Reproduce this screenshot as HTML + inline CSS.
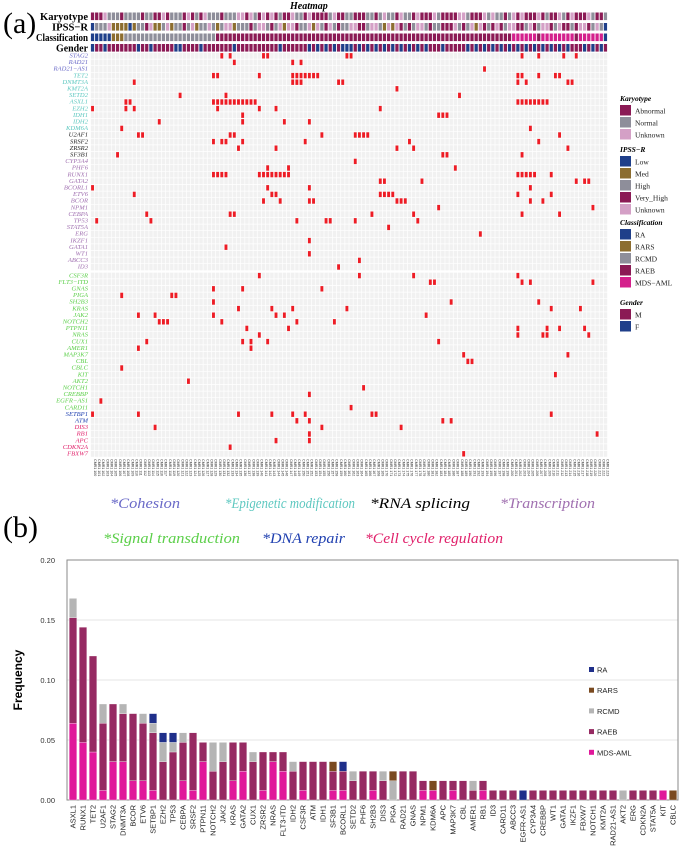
<!DOCTYPE html>
<html><head><meta charset="utf-8"><style>
html,body{margin:0;padding:0;background:#fff;width:680px;height:847px;overflow:hidden}
svg{display:block}
.serif{font-family:"Liberation Serif",serif}
.sans{font-family:"Liberation Sans",sans-serif}
</style></head><body>
<svg id="fig" width="680" height="847" viewBox="0 0 680 847" xmlns="http://www.w3.org/2000/svg">
<text x="3" y="33" class="serif" font-size="30">(a)</text>
<text x="3" y="537" class="serif" font-size="30">(b)</text>
<text x="290" y="9" class="serif" font-size="10" font-weight="bold" font-style="italic">Heatmap</text>
<g id="annot"></g>
<g id="heat"></g>
<g id="hlegend"></g>
<g class="serif" font-style="italic" font-size="15">
<text x="110" y="508" fill="#6a6ac8" textLength="70" lengthAdjust="spacingAndGlyphs">*Cohesion</text>
<text x="225" y="508" fill="#5ec8c0" textLength="130" lengthAdjust="spacingAndGlyphs">*Epigenetic modification</text>
<text x="370" y="508" fill="#000" textLength="100" lengthAdjust="spacingAndGlyphs">*RNA splicing</text>
<text x="500" y="508" fill="#a070b0" textLength="95" lengthAdjust="spacingAndGlyphs">*Transcription</text>
<text x="103" y="543" fill="#5ccf4a" textLength="137" lengthAdjust="spacingAndGlyphs">*Signal transduction</text>
<text x="262" y="543" fill="#2040b0" textLength="83" lengthAdjust="spacingAndGlyphs">*DNA repair</text>
<text x="365" y="543" fill="#e0206a" textLength="138" lengthAdjust="spacingAndGlyphs">*Cell cycle regulation</text>
</g>
<g id="bars"></g>
</svg>
<script>
// ---------- heatmap data ----------
const genes = ["STAG2","RAD21","RAD21\u2212AS1","TET2","DNMT3A","KMT2A","SETD2","ASXL1","EZH2","IDH1","IDH2","KDM6A","U2AF1","SRSF2","ZRSR2","SF3B1","CYP3A4","PHF6","RUNX1","GATA2","BCORL1","ETV6","BCOR","NPM1","CEBPA","TP53","STAT5A","ERG","IKZF1","GATA1","WT1","ABCC3","ID3","CSF3R","FLT3\u2212ITD","GNAS","PIGA","SH2B3","KRAS","JAK2","NOTCH2","PTPN11","NRAS","CUX1","AMER1","MAP3K7","CBL","CBLC","KIT","AKT2","NOTCH1","CREBBP","EGFR\u2212AS1","CARD11","SETBP1","ATM","DIS3","RB1","APC","CDKN2A","FBXW7"];
const geneGroups = ["C","C","C","E","E","E","E","E","E","E","E","E","R","R","R","R","T","T","T","T","T","T","T","T","T","T","T","T","T","T","T","T","T","S","S","S","S","S","S","S","S","S","S","S","S","S","S","S","S","S","S","S","S","S","D","D","K","K","K","K","K"];
const mutations = {
0:[31,33,41,42,61,62,103,107,113,116],1:[34,48,50],2:[94],3:[29,30,40,48,49,50,51,52,53,54,102,103,107,111,112],
4:[10,48,49,50,59,60,102,104,114,115],5:[73],6:[21,32,88],7:[8,9,29,30,31,32,33,34,35,36,37,38,39,102,103,104,105,106,107,108,109],
8:[0,8,10,30,40,44,69],9:[36,83,84,85],10:[16,36,46,52],11:[7,105],12:[11,12,33,34,55,63,64,65,66,112],13:[29,31,32,36,51,76,107],
14:[35,44,73,77,114],15:[6,84,85,103],16:[63],17:[42,47,87],18:[29,30,31,32,40,41,42,43,44,45,46,47,102,103,104,105,106,110],
19:[69,70,79,116,118,119],20:[0,42,52,105],21:[10,43,44,69,70,71,72,102,110],22:[41,45,52,53,73,74,75,105,108],23:[83,120],
24:[13,33,34,67,77,103,112],25:[1,14,49,56,57,63,78],26:[71],27:[93],28:[52],29:[32],30:[52],31:[64],32:[59],
33:[40,64,77,102],34:[81,82,103,105,120],35:[29,36,55],36:[7,19,20],37:[29,86,107],38:[35,43,48,61,110,117],39:[11,15,29,44,46,80],
40:[16,17,18,31,49,58],41:[37,47,102,109,112,118],42:[40,102,108,109,119],43:[13,36,38,42,83],44:[11,38],45:[89,114],46:[90,91],
47:[7],48:[111],49:[23],50:[65],51:[52],52:[2],53:[62],54:[0,11,35,43,48,51,67,68,110],55:[49,52,84,86],56:[15,55,74],
57:[52,121],58:[44,52],59:[33],60:[89]};
const karyotype = "AAAUNNNANNNNANNAAUANNNAUANAUNNNANNNUUAUNAUAUANAAUNNAUAAAANUAANNAAANNANUNNAUNNAUAAAUNAAAAUUNAAAUNUNNANUAUAAAUANAAUNAUAAAUNAAN";
const ipss = "LHHHUMMMMLMHHVUMMHUMHHVHUMHHUHMHUUMHHHVHUUHVHUMUUVHHUMUHVUHVHHUUVVHUUHMUMUVHVHUUHVHHVVVUHVHUMUVHVUVHUUVVHUVHUUVHUVVHVUUVHUH";
const classification = "AAAAABBBCCCCCCCCCCCCCCCCCCCCCCDDDDDDDDDDDDDDDDDDDDDDDDDDDDDDDDDDDDDDDDDDDDDDDDDDDDDDDDDDDDDDDDDDDDDDDEEEEEEDEEEEEEEEDEEEEEE";
const genderF = [0,3,11,14,20,21,26,34,45,52,54,56,58,60,61,62,64,66,68,70,72,74,76,78,80,84,90,92,94,96,98,100,102,104,106,108,110,112,114,118,120,122];

const NC = 124, X0 = 90.5, CW = 4.17, Y0 = 52.5, RH = 6.6;
const NS = "http://www.w3.org/2000/svg";
function mk(tag, attrs, parent){const e=document.createElementNS(NS,tag);for(const k in attrs)e.setAttribute(k,attrs[k]);parent.appendChild(e);return e;}
const groupColor = {C:"#6a6ac8",E:"#5ec8c0",R:"#222",T:"#a070b0",S:"#5ccf4a",D:"#2040b0",K:"#e0206a"};
const kCol={A:"#8b1a55",N:"#8e8e9a",U:"#d4a0c6"};
const iCol={L:"#1f3f8a",M:"#8c6d2f",H:"#8e8e9a",V:"#8b1a55",U:"#d4a0c6"};
const cCol={A:"#1f3f8a",B:"#8c6d2f",C:"#8e8e9a",D:"#8b1a55",E:"#d4208c"};

const annot=document.getElementById('annot');
const trackNames=["Karyotype","IPSS\u2212R","Classification","Gender"];
const trackLens=[48,36,52,32];
const trackY=[12.5,23,33.5,44];
trackNames.forEach((n,ti)=>{
  const t=mk('text',{x:88,y:trackY[ti]+7.5,'text-anchor':'end','font-size':11,'font-weight':'bold',class:'serif',textLength:trackLens[ti],lengthAdjust:'spacingAndGlyphs'},annot);
  t.textContent=n;
  
  
  for(let c=0;c<NC;c++){
    let col;
    if(ti===0)col=kCol[karyotype[c%karyotype.length]];
    else if(ti===1)col=iCol[ipss[c%ipss.length]];
    else if(ti===2)col=cCol[classification[c%classification.length]];
    else col=genderF.includes(c)?"#1f3f8a":"#8b1a55";
    const r=mk('rect',{x:X0+c*CW+0.4,y:trackY[ti],width:CW-0.9,height:7.6,fill:col},annot);
    
    
  }
});

const heat=document.getElementById('heat');
function rowY(r){return Y0+r*RH+(r>=33?2:0);}
genes.forEach((g,r)=>{
  const y=rowY(r);
  const t=mk('text',{x:88,y:y+5,'text-anchor':'end','font-size':6.6,'font-style':'italic',fill:groupColor[geneGroups[r]],class:'serif'},heat);
  t.textContent=g;
  
  
  const bg=mk('rect',{x:X0,y:y,width:NC*CW,height:RH,fill:"#f1f1f1"},heat);
  
  
});
for(let c=0;c<=NC;c++){const l=mk('line',{x1:X0+c*CW,x2:X0+c*CW,y1:Y0,y2:rowY(60)+RH,stroke:"#fff","stroke-width":0.7},heat);}
for(let r=0;r<=61;r++){const y=r<61?rowY(r):rowY(60)+RH;const l=mk('line',{x1:X0,x2:X0+NC*CW,y1:y,y2:y,stroke:"#fff","stroke-width":0.7},heat);}
Object.keys(mutations).forEach(k=>{
  const r=+k;
  mutations[k].forEach(c=>{
    const m=mk('rect',{x:X0+c*CW+0.6,y:rowY(r)+0.6,width:CW-1.3,height:RH-1.2,fill:"#ee1c25"},heat);
    
    
  });
});
const sampleY=rowY(60)+RH+2;
for(let c=0;c<NC;c++){
  const x=X0+c*CW+CW/2+1.2;
  const t=mk('text',{x:x,y:sampleY,'font-size':3.6,fill:"#333",transform:`rotate(90 ${x} ${sampleY})`,class:'sans'},heat);
  t.textContent="CMR1 "+(100+c);
  
  
}

const hl=document.getElementById('hlegend');
const legendGroups=[
 {title:"Karyotype",y:101,items:[["Abnormal","#8b1a55"],["Normal","#8e8e9a"],["Unknown","#d4a0c6"]]},
 {title:"IPSS\u2212R",y:152,items:[["Low","#1f3f8a"],["Med","#8c6d2f"],["High","#8e8e9a"],["Very_High","#8b1a55"],["Unknown","#d4a0c6"]]},
 {title:"Classification",y:225,items:[["RA","#1f3f8a"],["RARS","#8c6d2f"],["RCMD","#8e8e9a"],["RAEB","#8b1a55"],["MDS\u2212AML","#d4208c"]]},
 {title:"Gender",y:305,items:[["M","#8b1a55"],["F","#1f3f8a"]]}];
legendGroups.forEach(g=>{
  const t=mk('text',{x:620,y:g.y,'font-size':7.5,'font-weight':'bold','font-style':'italic',class:'serif'},hl);
  t.textContent=g.title;
  
  
  g.items.forEach((it,i)=>{
    const y=g.y+4+i*12;
    const r=mk('rect',{x:620,y:y,width:11,height:10.5,fill:it[1]},hl);
    
    
    const tt=mk('text',{x:635,y:y+8.5,'font-size':7.5,class:'serif',fill:"#222"},hl);
    tt.textContent=it[0];
    
    
  });
});

// ---------- bar chart data ----------
const barGenes=["ASXL1","RUNX1","TET2","U2AF1","STAG2","DNMT3A","BCOR","ETV6","SETBP1","EZH2","TP53","CEBPA","SRSF2","PTPN11","NOTCH2","JAK2","KRAS","GATA2","CUX1","ZRSR2","NRAS","FLT3-ITD","IDH2","CSF3R","ATM","IDH1","SF3B1","BCORL1","SETD2","PHF6","SH2B3","DIS3","PIGA","RAD21","GNAS","NPM1","KDM6A","APC","MAP3K7","CBL","AMER1","RB1","ID3","CARD11","ABCC3","EGFR-AS1","CYP3A4","CREBBP","WT1","GATA1","IKZF1","FBXW7","NOTCH1","KMT2A","RAD21-AS1","AKT2","ERG","CDKN2A","STAT5A","KIT","CBLC"];
const totalPatients=125;
const mdsAml=[8,6,5,1,4,4,2,2,1,0,0,2,1,4,0,0,2,3,0,1,4,3,0,1,0,0,1,1,0,0,1,0,0,0,0,1,1,0,1,0,0,1,0,0,0,0,0,0,0,0,0,0,0,0,0,0,0,0,0,1,0];
const raeb=  [11,12,10,7,6,5,7,6,6,4,5,4,6,2,3,4,4,3,4,4,1,2,3,3,4,4,2,2,2,3,2,2,0,3,3,1,0,2,1,2,1,1,1,1,1,0,1,1,1,1,1,1,1,1,1,0,1,1,1,0,0];
const rcmd=  [2,0,0,2,0,1,0,1,1,2,1,1,0,0,3,2,0,0,1,0,0,0,1,0,0,0,0,0,1,0,0,1,2,0,0,0,0,0,0,0,1,0,0,0,0,0,0,0,0,0,0,0,0,0,0,1,0,0,0,0,0];
const rars=  [0,0,0,0,0,0,0,0,0,0,0,0,0,0,0,0,0,0,0,0,0,0,0,0,0,0,1,0,0,0,0,0,1,0,0,0,1,0,0,0,0,0,0,0,0,0,0,0,0,0,0,0,0,0,0,0,0,0,0,0,1];
const ra=    [0,0,0,0,0,0,0,0,1,1,1,0,0,0,0,0,0,0,0,0,0,0,0,0,0,0,0,1,0,0,0,0,0,0,0,0,0,0,0,0,0,0,0,0,0,1,0,0,0,0,0,0,0,0,0,0,0,0,0,0,0];
const yTicks=[0,0.05,0.10,0.15,0.20];
const yTickLabels=["0.00","0.05","0.10","0.15","0.20"];
const seriesNames=["RA","RARS","RCMD","RAEB","MDS-AML"];

const PL=67,PR=678,PT=560,PB=800,YMAX=0.20;
function yS(v){return PB-(v/YMAX)*(PB-PT);}
function xS(i){return 73+i*((PR-PL-11)/(barGenes.length-1));}
const bars=document.getElementById('bars');
yTicks.forEach((v,i)=>{
  if(v>0&&v<YMAX){const l=mk('line',{x1:PL,x2:PR,y1:yS(v),y2:yS(v),stroke:"#e4e4e4","stroke-width":1},bars);}
  const t=mk('text',{x:PL-12,y:yS(v)+3,'text-anchor':'end','font-size':7.5,fill:"#333",class:'sans'},bars);
  t.textContent=yTickLabels[i];
  
  
});
const frame=mk('rect',{x:PL,y:PT,width:PR-PL,height:PB-PT,fill:"none",stroke:"#8a8a8a","stroke-width":1},bars);


const yt=mk('text',{x:22,y:680,'text-anchor':'middle','font-size':12,'font-weight':'bold',transform:'rotate(-90 22 680)',class:'sans'},bars);
yt.textContent="Frequency";


const segColors=["#e0189a","#962a62","#b5b5b5","#7a4a20","#1f2f8a"];
const stacks=[mdsAml,raeb,rcmd,rars,ra];
barGenes.forEach((g,i)=>{
  let cum=0;
  const cx=xS(i);
  stacks.forEach((s,si)=>{
    const v=s[i]/totalPatients;
    if(v>0){
      const r=mk('rect',{x:cx-3.8,y:yS(cum+v),width:7.6,height:yS(cum)-yS(cum+v),fill:segColors[si],stroke:"#fff","stroke-width":0.3},bars);
      
      
    }
    cum+=v;
  });
  const ty=PB+5;
  const t=mk('text',{x:cx+2.5,y:ty,'text-anchor':'end','font-size':7.5,fill:"#222",transform:`rotate(-90 ${cx+2.5} ${ty})`,class:'sans'},bars);
  t.textContent=g;
  
  
});
const bl=[["RA","#1f2f8a"],["RARS","#7a4a20"],["RCMD","#b5b5b5"],["RAEB","#962a62"],["MDS-AML","#e0189a"]];
bl.forEach((b,i)=>{
  const y=667+i*20.7;
  const r=mk('rect',{x:589,y:y,width:5,height:5,fill:b[1]},bars);
  
  
  const t=mk('text',{x:597,y:y+5.5,'font-size':7.5,fill:"#222",class:'sans'},bars);
  t.textContent=b[0];
  
  
});
</script>
</body></html>
